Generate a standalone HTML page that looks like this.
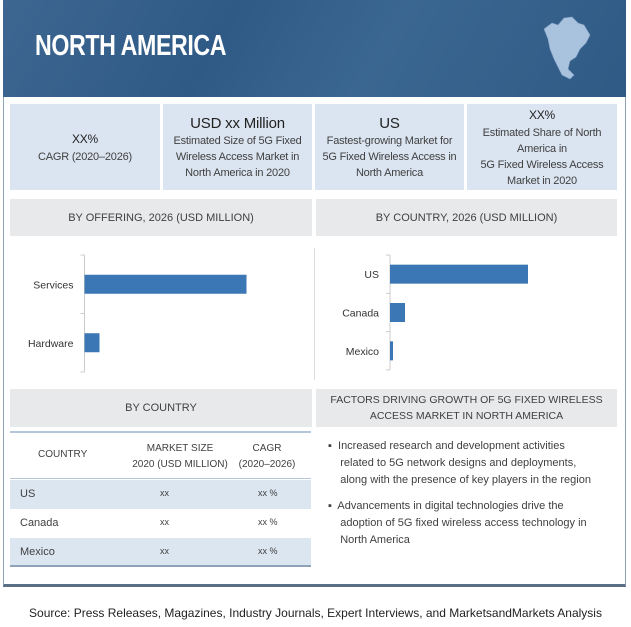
<!DOCTYPE html>
<html><head><meta charset="utf-8">
<style>
*{margin:0;padding:0;box-sizing:border-box}
body{width:631px;height:627px;background:#fff;position:relative;overflow:hidden;font-family:"Liberation Sans Narrow","Liberation Sans",sans-serif;color:#333}
.abs{position:absolute}
.card{position:absolute;top:104px;height:86px;background:#dbe5f1;display:flex;flex-direction:column;justify-content:center;align-items:center;text-align:center;font-size:11px;line-height:16px;color:#404040;letter-spacing:-0.2px}
.card b{font-size:15px;font-weight:normal;color:#222;line-height:19px}
.sec{position:absolute;background:#e8e9eb;display:flex;align-items:center;justify-content:center;text-align:center;font-size:11px;color:#404040;line-height:16px;white-space:nowrap}
.row{position:absolute;left:10px;width:301px;height:29px;font-size:11px;color:#404040}
.row span{position:absolute;top:8px}
</style></head><body>
<div class="abs" style="left:3px;top:0;width:623px;height:587px;border:1px solid #8fa3b8;border-bottom:3px solid #5a6f86"></div>
<div class="abs" style="left:3px;top:0;width:623px;height:97px;background:linear-gradient(120deg,#3d6791 0%,#2f5a86 35%,#3a6791 60%,#2f5a85 100%)"></div>
<div class="abs" style="left:35px;top:30px;font-size:29px;font-weight:bold;color:#fff;letter-spacing:-0.5px;transform:scaleX(0.8);transform-origin:left top;white-space:nowrap">NORTH AMERICA</div>
<svg class="abs" style="left:540px;top:15px" width="55" height="68" viewBox="0 0 55 68"><path d="M4 14 L12 8 L18 10 L24 3 L32 2 L38 8 L44 10 L50 20 L46 28 L40 34 L36 42 L30 46 L28 54 L34 60 L30 64 L22 60 L18 52 L14 44 L10 34 L8 24Z" fill="#a9c2de" stroke="#7f9fc4" stroke-width="0.6"/></svg>

<div class="card" style="left:10px;width:150px"><b style="font-size:12px">XX%</b>CAGR (2020–2026)</div>
<div class="card" style="left:163px;width:149px"><b>USD xx Million</b>Estimated Size of 5G Fixed<br>Wireless Access Market in<br>North America in 2020</div>
<div class="card" style="left:315px;width:149px"><b>US</b>Fastest-growing Market for<br>5G Fixed Wireless Access in<br>North America</div>
<div class="card" style="left:467px;width:150px"><b style="font-size:12px">XX%</b>Estimated Share of North<br>America in<br>5G Fixed Wireless Access<br>Market in 2020</div>

<div class="sec" style="left:10px;top:199px;width:302px;height:37px">BY OFFERING, 2026 (USD MILLION)</div>
<div class="sec" style="left:316px;top:199px;width:301px;height:37px">BY COUNTRY, 2026 (USD MILLION)</div>
<div class="abs" style="left:314px;top:248px;width:1px;height:132px;background:#ddd"></div>

<svg class="abs" id="charts" style="left:0;top:0" width="631" height="390"></svg>

<div class="sec" style="left:10px;top:389px;width:302px;height:38px">BY COUNTRY</div>
<div class="sec" style="left:316px;top:389px;width:301px;height:38px;font-size:10.5px">FACTORS DRIVING GROWTH OF 5G FIXED WIRELESS<br>ACCESS MARKET IN NORTH AMERICA</div>

<div class="abs" style="left:10px;top:431px;width:301px;height:2px;background:#b4c6da"></div>
<div class="row" style="top:433px;height:46px;font-size:10px;border-bottom:1px solid #b4c6da">
<span style="left:28px;top:16px">COUNTRY</span>
<span style="left:110px;top:8px;width:120px;text-align:center;line-height:16px">MARKET SIZE<br>2020 (USD MILLION)</span>
<span style="left:222px;top:8px;width:70px;text-align:center;line-height:16px">CAGR<br>(2020–2026)</span></div>
<div class="row" style="top:480px;background:#dce6f1"><span style="left:10px">US</span><span style="left:150px;font-size:9px">xx</span><span style="left:248px;font-size:9px">xx %</span></div>
<div class="row" style="top:509px"><span style="left:10px">Canada</span><span style="left:150px;font-size:9px">xx</span><span style="left:248px;font-size:9px">xx %</span></div>
<div class="row" style="top:538px;background:#dce6f1;border-bottom:2px solid #8fa3b8"><span style="left:10px">Mexico</span><span style="left:150px;font-size:9px">xx</span><span style="left:248px;font-size:9px">xx %</span></div>

<div class="abs" style="left:328px;top:438px;width:290px;font-size:11px;line-height:17px;color:#404040;white-space:nowrap">▪&nbsp; Increased research and development activities<br>&nbsp;&nbsp;&nbsp; related to 5G network designs and deployments,<br>&nbsp;&nbsp;&nbsp; along with the presence of key players in the region</div>
<div class="abs" style="left:328px;top:498px;width:290px;font-size:11px;line-height:17px;color:#404040;white-space:nowrap">▪&nbsp; Advancements in digital technologies drive the<br>&nbsp;&nbsp;&nbsp; adoption of 5G fixed wireless access technology in<br>&nbsp;&nbsp;&nbsp; North America</div>

<div class="abs" style="left:0;top:606px;width:631px;text-align:center;font-family:'Liberation Sans',sans-serif;font-size:12px;color:#222;white-space:nowrap">Source: Press Releases, Magazines, Industry Journals, Expert Interviews, and MarketsandMarkets Analysis</div>

<script>
const offeringCats=["Services","Hardware"];
const offeringVals=[162,15];
const countryCats=["US","Canada","Mexico"];
const countryVals=[138,15,3];
const NS="http://www.w3.org/2000/svg";
const svg=document.getElementById('charts');
function mk(t,a){const e=document.createElementNS(NS,t);for(const k in a)e.setAttribute(k,a[k]);svg.appendChild(e);return e;}
function chart(cats,vals,x0,yTop,yBot,pxPerUnit,nm){
  const band=(yBot-yTop)/cats.length;
  const ax=mk('line',{x1:x0,x2:x0,y1:yTop,y2:yBot,stroke:'#ccc'});
  
  
  for(let i=0;i<=cats.length;i++){const t=mk('line',{x1:x0-4,x2:x0,y1:yTop+i*band,y2:yTop+i*band,stroke:'#ccc'});
    
    }
  cats.forEach((c,i)=>{
    const cy=yTop+band*(i+0.5);const h=19;
    const r=mk('rect',{x:x0,y:cy-h/2,width:vals[i]*pxPerUnit,height:h,fill:'#3a77b4'});
    
    
    const tx=mk('text',{x:x0-11,y:cy+4,'text-anchor':'end','font-size':'10.5','font-family':'Liberation Sans Narrow, Liberation Sans, sans-serif',fill:'#333'});
    tx.textContent=c;
    
    
  });
}
chart(offeringCats,offeringVals,84.5,255,372,1,'offering');
chart(countryCats,countryVals,390,255,370,1,'country');
</script>
</body></html>
